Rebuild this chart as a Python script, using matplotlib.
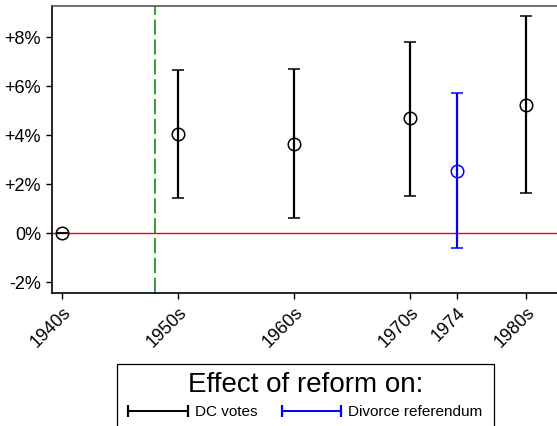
import matplotlib
matplotlib.use("Agg")
import matplotlib.pyplot as plt
from matplotlib.lines import Line2D
from matplotlib.patches import Rectangle
from matplotlib.legend_handler import HandlerLine2D

plt.rcParams['font.family'] = ['Liberation Sans', 'DejaVu Sans']

# effect estimates (percentage points) with 95% CI bounds
dc_years = [1940, 1950, 1960, 1970, 1980]
dc_effect = [0.0, 4.05, 3.63, 4.69, 5.24]
dc_low = [0.0, 1.44, 0.61, 1.53, 1.63]
dc_high = [0.0, 6.68, 6.71, 7.82, 8.86]

div_years = [1974]
div_effect = [2.56]
div_low = [-0.61]
div_high = [5.73]

reform_year = 1948
tick_years = [1940, 1950, 1960, 1970, 1974, 1980]
tick_labels = ['1940s', '1950s', '1960s', '1970s', '1974', '1980s']
yticks = [-2, 0, 2, 4, 6, 8]
ytick_labels = ['-2%', '0%', '+2%', '+4%', '+6%', '+8%']

W, H = 557, 426
fig = plt.figure(figsize=(W / 100, H / 100), dpi=100)
ax = fig.add_axes([52 / W, (H - 293) / H, (W - 52) / W, (293 - 6) / H])

ax.axhline(0, color='red', lw=1.0, zorder=1)
ax.axvline(reform_year, color='green', lw=1.1, dashes=(10, 3), zorder=1)

def ci(est, lo, hi):
    return [[e - l for e, l in zip(est, lo)], [h - e for e, h in zip(est, hi)]]

ax.errorbar(dc_years, dc_effect, yerr=ci(dc_effect, dc_low, dc_high), fmt='o',
            color='black', mfc='none', mec='black', ms=9, mew=1.1,
            elinewidth=1.6, capsize=4.5, capthick=1.6, zorder=3)
ax.errorbar(div_years, div_effect, yerr=ci(div_effect, div_low, div_high), fmt='o',
            color='blue', mfc='none', mec='blue', ms=9, mew=1.1,
            elinewidth=1.6, capsize=4.5, capthick=1.6, zorder=3)

ax.set_xlim(1939.1, 1982.65)
ax.set_ylim(-2.44, 9.28)
ax.set_xticks(tick_years)
ax.set_xticklabels(tick_labels, rotation=45, ha='right', rotation_mode='anchor')
ax.set_yticks(yticks)
ax.set_yticklabels(ytick_labels)
ax.tick_params(labelsize=13, length=4.5, width=1, direction='out')
ax.spines['right'].set_visible(False)
ax.spines['top'].set_color('#555555')
for s in ['left', 'bottom', 'top']:
    ax.spines[s].set_linewidth(1.2)

# legend box runs off the bottom of the figure
fig.patches.append(Rectangle((117 / W, -0.1), (494 - 117) / W, 0.1 + (H - 364) / H,
                             transform=fig.transFigure, fill=False,
                             edgecolor='black', lw=0.9))

handles = [Line2D([], [], color='black', lw=1.4, marker='|', ms=8, mew=1.6),
           Line2D([], [], color='blue', lw=1.4, marker='|', ms=8, mew=1.6)]
leg = fig.legend(handles, ['DC votes', 'Divorce referendum'], ncol=2,
                 loc='upper center', bbox_to_anchor=(305.5 / W, (H - 364) / H),
                 borderaxespad=0, frameon=False,
                 fontsize=11, title='Effect of reform on:', title_fontsize=20,
                 numpoints=2, handlelength=3.9, handletextpad=0.45,
                 columnspacing=1.6, borderpad=0.55, labelspacing=0.45,
                 handler_map={Line2D: HandlerLine2D(marker_pad=0)})

fig.savefig('out.png', dpi=100)
